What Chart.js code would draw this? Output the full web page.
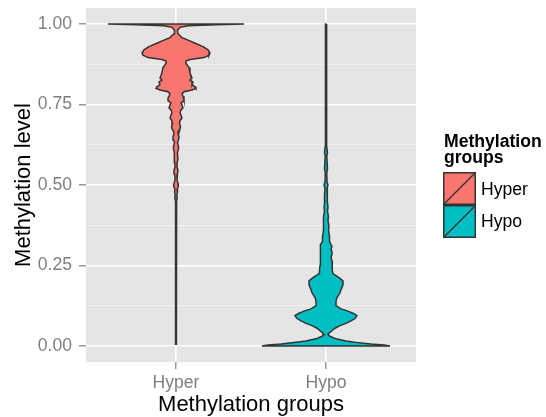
<!DOCTYPE html>
<html>
<head>
<meta charset="utf-8">
<script src="https://cdn.jsdelivr.net/npm/chart.js@4.4.1/dist/chart.umd.min.js"></script>
<style>
  html, body { margin: 0; padding: 0; background: #ffffff; }
  #wrap { position: relative; width: 546px; height: 417px; font-family: "Liberation Sans", Arial, sans-serif; }
  #chart { position: absolute; left: 0; top: 0; }
  #legendTitle { position: absolute; left: 444px; top: 133px; font-weight: bold; font-size: 17.6px; line-height: 16px; color: #000; }
  .key { position: absolute; left: 443px; width: 33px; height: 33px; }
  .keyLabel { position: absolute; left: 481px; font-size: 17.6px; line-height: 20px; color: #000; }
</style>
</head>
<body>
<div id="wrap">
  <canvas id="chart" width="546" height="417"></canvas>
  <div id="legendTitle">Methylation<br>groups</div>
</div>
<script>
// ---- data ----
const categories = ['Hyper', 'Hypo'];
const fillColors = ['#F8766D', '#00BFC4'];
const xTitle = 'Methylation groups';
const yTitle = 'Methylation level';
const yMajorTicks = [0, 0.25, 0.5, 0.75, 1];
const yTickLabels = ['0.00', '0.25', '0.50', '0.75', '1.00'];
const yMinorTicks = [0.125, 0.375, 0.625, 0.875];

// violin outlines: methylation level and relative density (half-width)
const hyperLevels = [1.0, 0.998, 0.995, 0.99, 0.98, 0.97, 0.958, 0.95, 0.942, 0.93, 0.92, 0.911, 0.903, 0.896, 0.89, 0.885, 0.878, 0.865, 0.85, 0.84, 0.832, 0.826, 0.82, 0.812, 0.805, 0.8, 0.795, 0.79, 0.783, 0.776, 0.77, 0.762, 0.755, 0.748, 0.74, 0.733, 0.725, 0.717, 0.708, 0.7, 0.69, 0.682, 0.675, 0.667, 0.659, 0.65, 0.64, 0.632, 0.62, 0.612, 0.602, 0.592, 0.582, 0.57, 0.556, 0.545, 0.535, 0.525, 0.515, 0.505, 0.5, 0.494, 0.486, 0.478, 0.47, 0.46, 0.45, 0.4, 0.3, 0.2, 0.1, 0.005];
const hyperDensity = [68, 40, 12, 4, 1.5, 2, 6, 12, 18, 27, 32, 34, 33, 28, 14, 10, 10, 13, 14, 15, 16, 14, 17, 16, 19, 20, 16, 8, 6, 7, 8, 8, 5, 6, 7, 5, 4, 5, 6, 4, 3.5, 4.5, 4, 2.5, 2, 3, 2.5, 1.5, 2.5, 2.5, 1.5, 1.5, 2, 1.2, 1, 2, 1.5, 1, 1, 2, 2.5, 2, 1, 1.5, 0.8, 1.2, 0.6, 0.5, 0.4, 0.4, 0.3, 0.3];
const hypoLevels = [1.0, 0.9, 0.7, 0.62, 0.6, 0.59, 0.55, 0.54, 0.51, 0.5, 0.49, 0.47, 0.45, 0.43, 0.42, 0.4, 0.39, 0.37, 0.36, 0.34, 0.325, 0.315, 0.31, 0.3, 0.292, 0.285, 0.275, 0.265, 0.25, 0.235, 0.225, 0.218, 0.21, 0.202, 0.19, 0.175, 0.165, 0.15, 0.14, 0.125, 0.115, 0.108, 0.1, 0.094, 0.085, 0.078, 0.07, 0.063, 0.055, 0.047, 0.04, 0.035, 0.03, 0.022, 0.015, 0.011, 0.006, 0.003, 0.0];
const hypoDensity = [0.5, 0.5, 0.6, 0.8, 1.5, 0.8, 1.5, 0.8, 1, 2, 1, 1.5, 1.2, 2, 1.5, 2.5, 2, 3, 2.5, 3.5, 3.5, 5, 6, 5, 6, 6, 5, 6, 6, 6.5, 7, 10, 14, 17, 17, 15, 14, 11, 10, 10, 15, 22, 28, 31, 29, 25, 20, 14, 9, 6, 3, 2, 4, 10, 20, 30, 45, 58, 64];

// ---- build ----
const densityToX = 1 / 150; // category units per density unit

function outline(center, levels, dens) {
  const right = levels.map((y, i) => ({ x: center + dens[i] * densityToX, y }));
  const left = levels.map((y, i) => ({ x: center - dens[i] * densityToX, y })).reverse();
  return right.concat(left, [right[0]]);
}

const violins = [
  outline(1, hyperLevels, hyperDensity),
  outline(2, hypoLevels, hypoDensity)
];

const FONT = '"Liberation Sans", Arial, sans-serif';

const panelBg = {
  id: 'panelBg',
  beforeDraw(chart) {
    const { ctx, chartArea: a } = chart;
    ctx.save();
    ctx.fillStyle = '#E5E5E5';
    ctx.fillRect(a.left, a.top, a.right - a.left, a.bottom - a.top);
    ctx.restore();
  }
};

const isMajor = v => yMajorTicks.includes(v);

new Chart(document.getElementById('chart'), {
  type: 'line',
  data: {
    datasets: categories.map((c, i) => ({
      label: c,
      data: violins[i],
      backgroundColor: fillColors[i],
      borderColor: '#333333',
      borderWidth: 1.5,
      pointRadius: 0,
      tension: 0,
      fill: 'shape'
    }))
  },
  options: {
    responsive: false,
    animation: false,
    events: [],
    layout: { padding: { left: 0, right: 130, top: 8, bottom: 0 } },
    plugins: { legend: { display: false }, tooltip: { enabled: false } },
    scales: {
      x: {
        type: 'linear',
        min: 0.4,
        max: 2.6,
        afterBuildTicks: s => { s.ticks = categories.map((c, i) => ({ value: i + 1 })); },
        afterFit: s => { s.height = 55; s.paddingLeft = 0; s.paddingRight = 0; },
        border: { display: false },
        grid: { color: '#FFFFFF', lineWidth: 1.6, tickColor: '#7F7F7F', tickWidth: 1.2, tickLength: 7 },
        ticks: {
          autoSkip: false, maxRotation: 0, padding: 4,
          color: '#7F7F7F', font: { family: FONT, size: 17.6 },
          callback: v => categories[Math.round(v) - 1]
        },
        title: { display: true, text: xTitle, color: '#000000', font: { family: FONT, size: 22, lineHeight: 1.1 }, padding: { top: 0, bottom: 0 } }
      },
      y: {
        type: 'linear',
        min: -0.05,
        max: 1.05,
        afterBuildTicks: s => { s.ticks = yMinorTicks.concat(yMajorTicks).sort((a, b) => a - b).map(v => ({ value: v })); },
        afterFit: s => { s.width = 86; s.paddingTop = 0; s.paddingBottom = 0; },
        border: { display: false },
        grid: {
          color: c => isMajor(c.tick.value) ? '#FFFFFF' : '#F2F2F2',
          lineWidth: c => isMajor(c.tick.value) ? 1.6 : 0.8,
          tickColor: c => isMajor(c.tick.value) ? '#7F7F7F' : 'rgba(0,0,0,0)',
          tickWidth: 1.2,
          tickLength: 7
        },
        ticks: {
          autoSkip: false, padding: 7,
          color: '#7F7F7F', font: { family: FONT, size: 17.6 },
          callback: v => { const k = yMajorTicks.indexOf(v); return k >= 0 ? yTickLabels[k] : ''; }
        },
        title: { display: true, text: yTitle, color: '#000000', font: { family: FONT, size: 22 }, padding: { top: 11, bottom: 0 } }
      }
    }
  },
  plugins: [panelBg]
});

// ---- legend ----
const wrap = document.getElementById('wrap');
const keyTops = [172, 204.5];
categories.forEach((c, i) => {
  const key = document.createElement('div');
  key.className = 'key';
  key.style.top = keyTops[i] + 'px';
  key.innerHTML = '<svg width="33" height="33" xmlns="http://www.w3.org/2000/svg">' +
    '<rect x="0.75" y="0.75" width="31.5" height="31.5" fill="' + fillColors[i] + '" stroke="#333333" stroke-width="1.5"/>' +
    '<line x1="0.75" y1="32.25" x2="32.25" y2="0.75" stroke="#333333" stroke-width="1.5"/></svg>';
  wrap.appendChild(key);
  const lab = document.createElement('div');
  lab.className = 'keyLabel';
  lab.textContent = c;
  lab.style.top = (keyTops[i] + 16.5 - 10) + 'px';
  wrap.appendChild(lab);
});
</script>
</body>
</html>
